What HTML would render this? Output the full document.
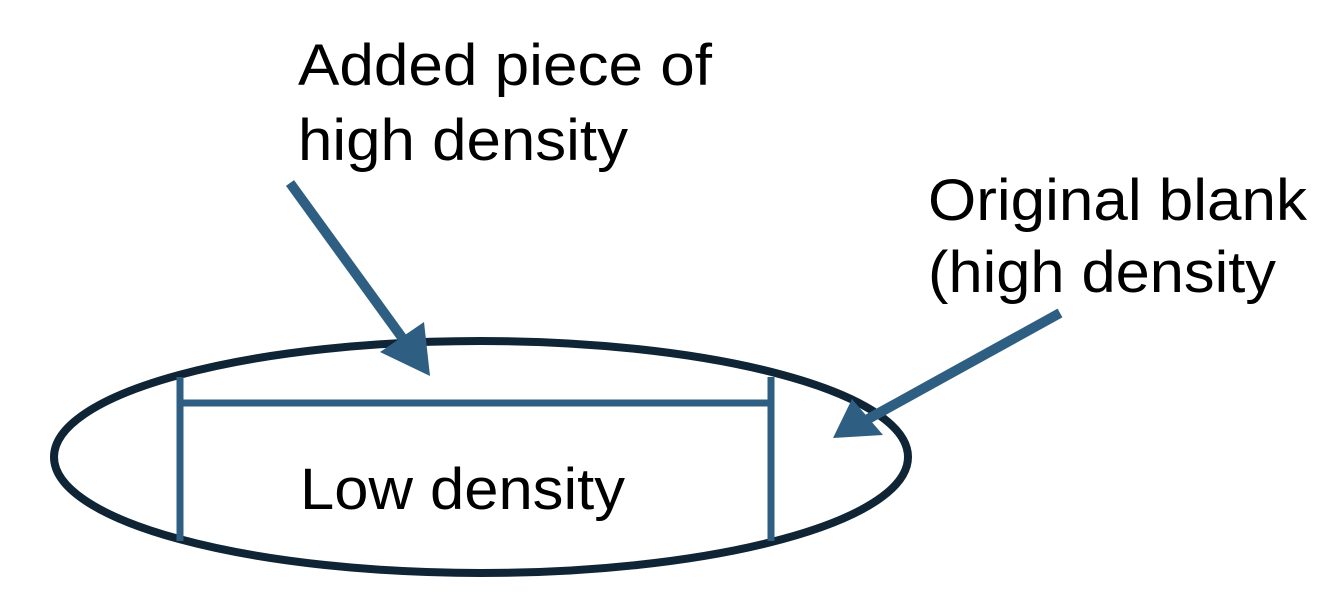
<!DOCTYPE html>
<html><head><meta charset="utf-8"><style>
html,body{margin:0;padding:0;background:#fff;}
body{width:1344px;height:614px;overflow:hidden;position:relative;}
svg{position:absolute;left:0;top:0;}
text{font-family:"Liberation Sans",sans-serif;font-size:58px;fill:#000;}
</style></head><body>
<svg width="1344" height="614" viewBox="0 0 1344 614">
<ellipse cx="481" cy="457" rx="427" ry="116" fill="none" stroke="#0f2536" stroke-width="8"/>
<g stroke="#2e5f82" stroke-width="7" fill="none">
<line x1="180" y1="377" x2="180" y2="541"/>
<line x1="771" y1="377" x2="771" y2="541"/>
<line x1="180" y1="403" x2="771" y2="403"/>
</g>
<g stroke="#2e5f82" stroke-width="10" stroke-linecap="butt">
<line x1="290" y1="183" x2="406" y2="343"/>
<line x1="1060" y1="313" x2="868" y2="419"/>
</g>
<polygon points="430,376 380,352 424,322" fill="#2e5f82"/>
<polygon points="833,438 852,399 883,435" fill="#2e5f82"/>
<text x="298" y="85" textLength="414" lengthAdjust="spacingAndGlyphs">Added piece of</text>
<text x="298" y="160" textLength="330" lengthAdjust="spacingAndGlyphs">high density</text>
<text x="928" y="220" textLength="379" lengthAdjust="spacingAndGlyphs">Original blank</text>
<text x="928" y="292" textLength="348" lengthAdjust="spacingAndGlyphs">(high density</text>
<text x="300" y="509" textLength="325" lengthAdjust="spacingAndGlyphs">Low density</text>
</svg>
</body></html>
